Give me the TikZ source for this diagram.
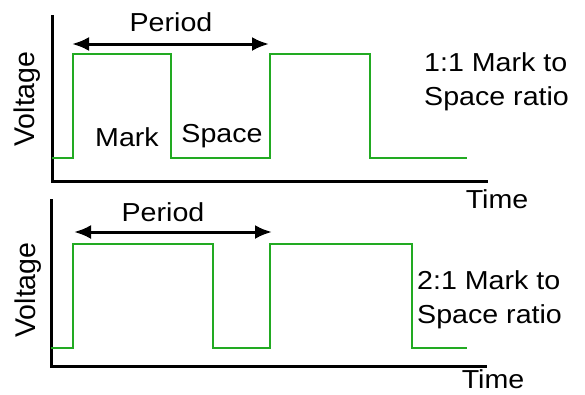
\documentclass[tikz,border=0pt]{standalone}
\usepackage{fontspec}
\setmainfont{Liberation Sans}
\usetikzlibrary{arrows.meta}

\begin{document}
\begin{tikzpicture}[x=1pt,y=-1pt,
  axis/.style={line width=3pt,black},
  sig/.style={line width=2.8pt,draw={rgb,255:red,34;green,170;blue,34}},
  span/.style={line width=3pt,{Latex[length=17pt,width=14pt]}-{Latex[length=17pt,width=14pt]}},
  lbl/.style={font=\fontsize{26}{34}\selectfont,inner sep=0pt,xscale=1.1},
  vlbl/.style={font=\fontsize{28.5}{34}\selectfont,inner sep=0pt,rotate=90}]
\useasboundingbox (0,0) rectangle (585,394);

% 1:1 mark to space
\coordinate (o1) at (52,181);
\coordinate (ytop1) at (52,15);
\coordinate (xend1) at (488,181);
\draw[axis] (ytop1) -- (o1) -- (xend1);
\draw[sig] (52,158) -- (73,158) -- (73,54) -- (171,54) -- (171,158) -- (270,158)
  -- (270,54) -- (370,54) -- (370,158) -- (467,158);
\coordinate (pa1) at (72,44);
\coordinate (pb1) at (269,44);
\draw[span] (pa1) -- (pb1);
\node[lbl] (per1) at (171,22) {Period};
\node[lbl] (mark1) at (127,137) {Mark};
\node[lbl] (space1) at (222,136) {Space};
\node[vlbl] (volt1) at (27,99) {Voltage};
\node[lbl,anchor=base] (time1) at (497,208) {Time};
\node[lbl,anchor=west,align=left] (ratio1) at (424,82) {1:1 Mark to\\Space ratio};

% 2:1 mark to space
\coordinate (o2) at (51,366);
\coordinate (ytop2) at (51,199);
\coordinate (xend2) at (487,366);
\draw[axis] (ytop2) -- (o2) -- (xend2);
\draw[sig] (51,348) -- (73,348) -- (73,244) -- (213,244) -- (213,348) -- (270,348)
  -- (270,244) -- (412,244) -- (412,348) -- (467,348);
\coordinate (pa2) at (74,232);
\coordinate (pb2) at (272,232);
\draw[span] (pa2) -- (pb2);
\node[lbl] (per2) at (163,212) {Period};
\node[vlbl] (volt2) at (28,290) {Voltage};
\node[lbl,anchor=base] (time2) at (493,388) {Time};
\node[lbl,anchor=west,align=left] (ratio2) at (417,300) {2:1 Mark to\\Space ratio};

\end{tikzpicture}
\end{document}
